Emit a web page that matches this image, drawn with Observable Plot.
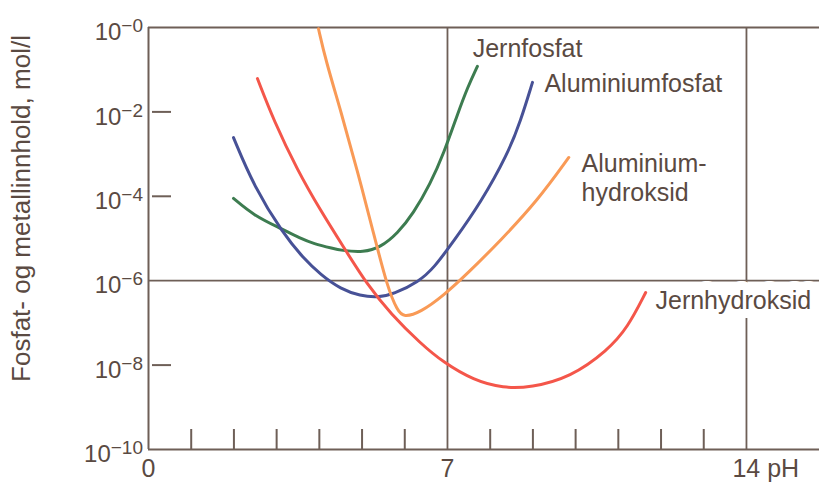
<!DOCTYPE html>
<html>
<head>
<meta charset="utf-8">
<script src="https://cdn.jsdelivr.net/npm/d3@7"></script>
<script src="https://cdn.jsdelivr.net/npm/@observablehq/plot@0.6"></script>
<style>
  body { margin: 0; background: #fff; }
</style>
</head>
<body>
<div id="chart"></div>
<script>
// Solubility of iron/aluminium phosphates and hydroxides versus pH.
// Each curve: pH values and log10 of the dissolved content (mol/l).
const seriesNames = ["Jernfosfat", "Aluminiumfosfat", "Aluminiumhydroksid", "Jernhydroksid"];

const jernfosfatPH  = [1.99, 2.46, 3.09, 3.56, 3.86, 4.33, 4.50, 5.04, 5.43, 5.83, 6.20, 6.60, 6.91, 7.24, 7.47, 7.70];
const jernfosfatLog = [-4.05, -4.45, -4.76, -5.00, -5.12, -5.24, -5.28, -5.33, -5.21, -4.88, -4.41, -3.70, -2.99, -2.04, -1.42, -0.92];

const alFosfatPH  = [1.99, 2.46, 3.16, 3.63, 4.03, 4.50, 4.96, 5.36, 5.74, 6.33, 6.68, 7.14, 7.78, 8.41, 8.71, 8.99];
const alFosfatLog = [-2.61, -3.75, -4.90, -5.47, -5.86, -6.20, -6.36, -6.40, -6.32, -6.02, -5.70, -5.07, -4.15, -3.00, -2.22, -1.30];

const alHydroksidPH  = [3.98, 4.15, 4.50, 4.89, 5.27, 5.60, 5.83, 5.97, 6.37, 6.91, 7.47, 8.24, 9.11, 9.84];
const alHydroksidLog = [-0.03, -0.78, -1.97, -3.39, -4.88, -6.18, -6.71, -6.87, -6.75, -6.35, -5.83, -5.05, -4.10, -3.08];

const jernHydroksidPH  = [2.55, 2.93, 3.49, 4.03, 4.57, 5.13, 5.67, 6.37, 6.91, 7.61, 8.31, 8.95, 9.88, 10.75, 11.22, 11.64];
const jernHydroksidLog = [-1.21, -2.20, -3.39, -4.34, -5.21, -6.11, -6.78, -7.49, -7.94, -8.36, -8.55, -8.53, -8.29, -7.65, -7.11, -6.28];

// Curve labels and where they sit (pH, log10 concentration)
const curveLabels   = ["Jernfosfat", "Aluminiumfosfat", "Aluminium-\nhydroksid", "Jernhydroksid"];
const curveLabelPH  = [7.59, 9.27, 10.14, 11.87];
const curveLabelLog = [-0.49, -1.32, -3.55, -6.45];

// Axes
const yTickExponents  = [0, -2, -4, -6, -8, -10];   // labelled decades
const yMinorExponents = [-2, -4, -8];                // short inner ticks
const pHTicks         = [1, 2, 3, 4, 5, 6, 8, 9, 10, 11, 12, 13];
const pHGrid          = [7, 14];
const logGrid         = [-6];
const pHLabelValues   = [0, 7];
const pHEndLabel      = "14 pH";
const yTitle          = "Fosfat- og metallinnhold, mol/l";

const curveColors = ["#3d7c50", "#475196", "#f99a56", "#f4564a"];
const ink  = "#5a4a42";
const rule = "#6e5f57";

const seriesData = [
  [jernfosfatPH, jernfosfatLog],
  [alFosfatPH, alFosfatLog],
  [alHydroksidPH, alHydroksidLog],
  [jernHydroksidPH, jernHydroksidLog]
];
const rows = seriesData.flatMap(([ph, lg], k) =>
  ph.map((p, i) => ({serie: seriesNames[k], pH: p, c: 10 ** lg[i]})));
const labelRows = curveLabels.map((t, i) => ({text: t, pH: curveLabelPH[i], c: 10 ** curveLabelLog[i]}));

const W = 819, H = 486;
const mL = 148, mT = 27, mB = 37, mR = 0;
const xMax = 15.71;

const chart = Plot.plot({
  width: W,
  height: H,
  marginLeft: mL,
  marginRight: mR,
  marginTop: mT,
  marginBottom: mB,
  style: {fontFamily: "'Liberation Sans', Arial, Helvetica, sans-serif", background: "#fff", color: ink},
  x: {domain: [0, xMax], axis: null},
  y: {type: "log", domain: [1e-10, 1], axis: null},
  color: {domain: seriesNames, range: curveColors},
  marks: [
    // open frame: top, bottom, left
    Plot.ruleY([1, 1e-10], {x1: 0, x2: xMax, stroke: rule, strokeWidth: 2}),
    Plot.ruleX([0], {y1: 1e-10, y2: 1, stroke: rule, strokeWidth: 2}),
    // reference lines
    Plot.ruleX(pHGrid, {y1: 1e-10, y2: 1, stroke: rule, strokeWidth: 1.8}),
    Plot.ruleY(logGrid.map(e => 10 ** e), {x1: 0, x2: xMax, stroke: rule, strokeWidth: 1.8}),
    // inner ticks
    Plot.tickX(pHTicks, {x: d => d, stroke: rule, strokeWidth: 2, insetTop: (H - mT - mB) - 20}),
    Plot.tickY(yMinorExponents.map(e => 10 ** e), {y: d => d, stroke: rule, strokeWidth: 2, insetLeft: 4, insetRight: (W - mL - mR) - 23}),
    // y tick labels (10^n)
    Plot.text(yTickExponents, {
      y: d => 10 ** d, frameAnchor: "left", text: d => `10^\u2212${Math.abs(d)}`,
      textAnchor: "end", dx: -5.5, dy: 5, fontSize: 24, fill: ink
    }),
    // pH labels
    Plot.text(pHLabelValues, {x: d => d, text: d => String(d), frameAnchor: "bottom", textAnchor: "middle", dy: 27, fontSize: 25, fill: ink}),
    Plot.text([14], {x: d => d, text: () => pHEndLabel, frameAnchor: "bottom", textAnchor: "start", dx: -14, dy: 27, fontSize: 25, fill: ink}),
    // y title
    Plot.text([yTitle], {text: d => d, frameAnchor: "left", textAnchor: "middle", rotate: -90, dx: -127, dy: -30, fontSize: 26, fill: ink}),
    // curve labels with white halo
    Plot.text(labelRows, {
      x: "pH", y: "c", text: "text", textAnchor: "start", lineHeight: 1.16,
      fontSize: 25, fill: ink, stroke: "#fff", strokeWidth: 18, strokeLinejoin: "round", paintOrder: "stroke"
    }),
    // curves
    Plot.line(rows, {x: "pH", y: "c", z: "serie", stroke: "serie", strokeWidth: 3, curve: "basis"})
  ]
});

// superscript exponents in the y tick labels
chart.querySelectorAll("text").forEach(t => {
  const m = /^10\^(.+)$/.exec(t.textContent);
  if (!m) return;
  t.textContent = "10";
  const sup = document.createElementNS("http://www.w3.org/2000/svg", "tspan");
  sup.setAttribute("dy", "-8");
  sup.setAttribute("font-size", "19");
  sup.textContent = m[1];
  t.appendChild(sup);
});

document.getElementById("chart").appendChild(chart);
</script>
</body>
</html>
